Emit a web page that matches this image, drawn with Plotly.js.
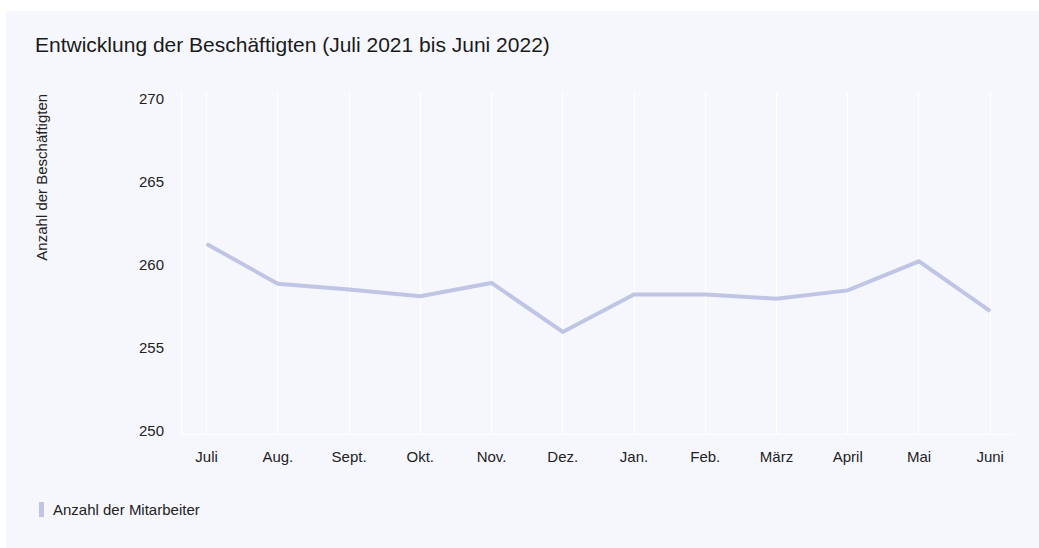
<!DOCTYPE html>
<html>
<head>
<meta charset="utf-8">
<script src="https://cdn.plot.ly/plotly-3.0.1.min.js"></script>
<style>
  html, body { margin: 0; padding: 0; background: #ffffff; }
  #chart { position: absolute; left: 6px; top: 11px; width: 1033px; height: 537px; }
</style>
</head>
<body>
<div id="chart"></div>
<script>
const months = ["Juli", "Aug.", "Sept.", "Okt.", "Nov.", "Dez.", "Jan.", "Feb.", "März", "April", "Mai", "Juni"];
const employees = [261.25, 258.85, 258.5, 258.1, 258.9, 255.95, 258.2, 258.2, 257.95, 258.45, 260.2, 257.2];
const yTicks = [250, 255, 260, 265, 270];

const seriesName = "Anzahl der Mitarbeiter";
const titleText = "Entwicklung der Beschäftigten (Juli 2021 bis Juni 2022)";
const yTitleText = "Anzahl der Beschäftigten";

const bg = "#f6f7fc";
const lineColor = "#c0c5e6";
const fontFam = "'Liberation Sans', Arial, sans-serif";

const trace = {
  x: months,
  y: employees,
  type: "scatter",
  mode: "lines",
  name: seriesName,
  line: { color: lineColor, width: 4 },
  showlegend: false,
  hoverinfo: "x+y"
};

const layout = {
  width: 1033,
  height: 537,
  paper_bgcolor: bg,
  plot_bgcolor: bg,
  margin: { l: 176, r: 26, t: 81, b: 114 },
  font: { family: fontFam, color: "#222222", size: 15 },
  title: {
    text: titleText,
    font: { family: fontFam, size: 21, color: "#1a1a1a" },
    xref: "container", yref: "container",
    x: 29 / 1033, xanchor: "left",
    y: 1 - 34 / 537, yanchor: "middle"
  },
  xaxis: {
    type: "category",
    range: [-0.345, 11.32],
    showgrid: true,
    gridcolor: "#ffffff",
    gridwidth: 1,
    showline: true,
    linecolor: "#ffffff",
    linewidth: 1,
    zeroline: false,
    ticks: "outside",
    ticklen: 9,
    tickcolor: "rgba(0,0,0,0)",
    tickfont: { family: fontFam, size: 15, color: "#222222" },
    fixedrange: true
  },
  yaxis: {
    range: [249.8, 270.4],
    tickvals: yTicks,
    ticktext: yTicks.map(String),
    showgrid: false,
    showline: true,
    linecolor: "#ffffff",
    linewidth: 1,
    zeroline: false,
    ticks: "outside",
    ticklen: 14,
    tickcolor: "rgba(0,0,0,0)",
    tickfont: { family: fontFam, size: 15, color: "#222222" },
    fixedrange: true
  },
  shapes: [
    {
      type: "rect", xref: "paper", yref: "paper",
      x0: -0.1721, x1: -0.1661, y0: -0.2427, y1: -0.1988,
      fillcolor: lineColor, line: { width: 0 }
    }
  ],
  annotations: [
    {
      text: yTitleText, xref: "paper", yref: "paper",
      x: -0.1695, y: 1.0, xanchor: "center", yanchor: "top",
      textangle: -90, showarrow: false,
      font: { family: fontFam, size: 15, color: "#222222" }
    },
    {
      text: seriesName, xref: "paper", yref: "paper",
      x: -0.1576, y: -0.2208, xanchor: "left", yanchor: "middle",
      showarrow: false,
      font: { family: fontFam, size: 15, color: "#222222" }
    }
  ]
};

Plotly.newPlot("chart", [trace], layout, { displayModeBar: false, responsive: false });
</script>
</body>
</html>
